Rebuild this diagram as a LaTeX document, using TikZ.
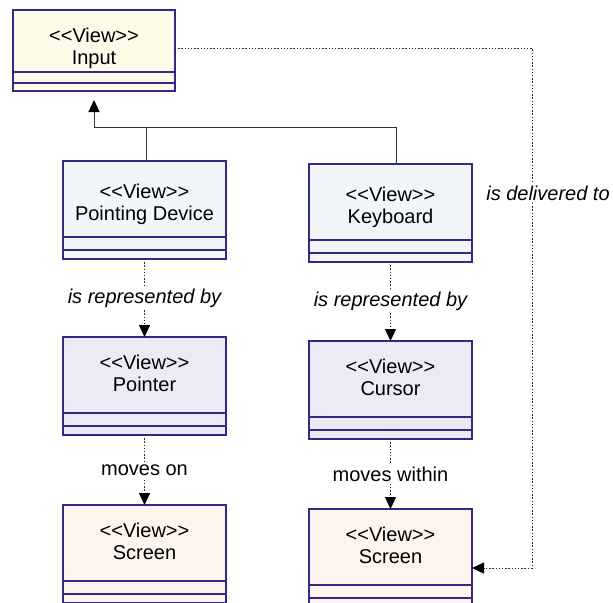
\documentclass[tikz,border=0pt]{standalone}
\usepackage{fontspec}
\setmainfont{Liberation Sans}
\usetikzlibrary{positioning,arrows.meta}

\definecolor{viewline}{RGB}{55,40,135}
\definecolor{inputfill}{RGB}{254,251,232}
\definecolor{devicefill}{RGB}{242,246,249}
\definecolor{markfill}{RGB}{235,234,245}
\definecolor{screenfill}{RGB}{253,244,238}

\tikzset{
  view/.style={draw=viewline, line width=0.6pt, minimum width=81.5pt, minimum height=38pt,
    inner sep=0pt, outer sep=0pt, align=center, font=\fontsize{10}{11}\selectfont,
    text depth=2pt},
  device/.style={view, fill=devicefill, text height=23pt},
  members/.style={draw=viewline, line width=0.6pt, minimum width=81.5pt, minimum height=11pt,
    inner sep=0pt, outer sep=0pt,
    path picture={\draw[viewline, line width=0.6pt]
      ([yshift=-#1]path picture bounding box.north west) -- ([yshift=-#1]path picture bounding box.north east);}},
  members/.default=6.5pt,
  gen/.style={draw=black!80, line width=0.5pt, -{Triangle[width=5.5pt,length=6pt,color=black]}},
  flow/.style={draw=black!85, line width=0.5pt, dash pattern=on 0.7pt off 0.9pt,
    -{Triangle[width=5.5pt,length=6pt,color=black]}},
  edgelabel/.style={fill=white, inner sep=1pt, font=\fontsize{10}{10.5}\selectfont},
  edgenote/.style={edgelabel, font=\fontsize{10}{10.5}\selectfont\itshape},
}

\begin{document}
\begin{tikzpicture}[x=0.5pt, y=-0.5pt]
  % Frame
  \useasboundingbox (0,0) rectangle (613,602);
  % Views
  \node[view, fill=inputfill, minimum width=81pt, minimum height=31pt, text height=25pt] (in) at (94,41) {<{}<View>{}>\\Input};
  \node[members=5.5pt, fill=inputfill, minimum width=81pt, minimum height=9.5pt, below=0pt of in] (in-m) {};
  \node[device] (pd) at (144.5,199) {<{}<View>{}>\\Pointing Device};
  \node[members, fill=devicefill, below=0pt of pd] (pd-m) {};
  \node[device] (kb) at (390.5,202) {<{}<View>{}>\\Keyboard};
  \node[members, fill=devicefill, below=0pt of kb] (kb-m) {};
  \node[view, fill=markfill] (ptr) at (144.5,375) {<{}<View>{}>\\Pointer};
  \node[members, fill=markfill, below=0pt of ptr] (ptr-m) {};
  \node[view, fill=markfill] (cur) at (390.5,379) {<{}<View>{}>\\Cursor};
  \node[members, fill=markfill, below=0pt of cur] (cur-m) {};
  \node[view, fill=screenfill] (scrL) at (144.5,543) {<{}<View>{}>\\Screen};
  \node[members, fill=screenfill, below=0pt of scrL] (scrL-m) {};
  \node[view, fill=screenfill] (scrR) at (390.5,547) {<{}<View>{}>\\Screen};
  \node[members, fill=screenfill, below=0pt of scrR] (scrR-m) {};
  % Generalisation
  \coordinate (hub) at (94,127);
  \draw[gen, shorten >=4.5pt] ([xshift=3pt]kb.north) |- (hub) -- (in-m.south);
  \draw[gen, -] ([xshift=1pt]pd.north) -- ([xshift=1pt]pd.north |- hub);
  % Flows
  \draw[flow] (pd-m.south) -- node[edgenote] (rep-l) {is represented by} (ptr.north);
  \draw[flow] (kb-m.south) -- node[edgenote] (rep-r) {is represented by} (cur.north);
  \draw[flow] (ptr-m.south) -- node[edgelabel] (mov-l) {moves on} (scrL.north);
  \draw[flow] (cur-m.south) -- node[edgelabel] (mov-r) {moves within} (scrR.north);
  \coordinate (route) at (532,568);
  \draw[flow] ([yshift=-3.5pt]in.east) -| node[edgenote, pos=0.64, xshift=8pt] (dlv) {is delivered to} (route)
    -- (scrR.east |- route);
\end{tikzpicture}
\end{document}
